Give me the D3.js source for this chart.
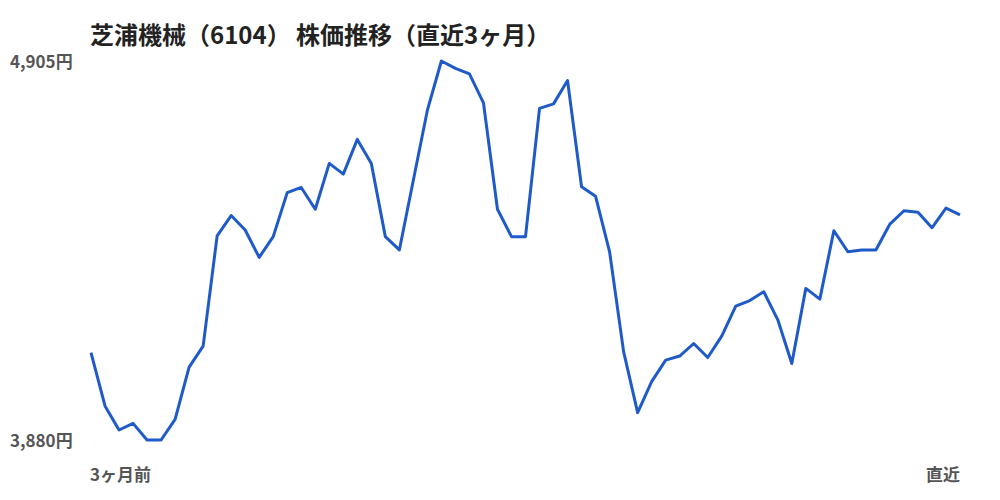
<!DOCTYPE html>
<html>
<head>
<meta charset="utf-8">
<script src="https://cdn.jsdelivr.net/npm/d3@7"></script>
<style>
body{margin:0;background:#fff;}
text{font-family:"Noto Sans CJK JP","Noto Sans",sans-serif;}
</style>
</head>
<body>
<script>
// closing prices, oldest first
var prices=[4116,3972,3907,3925,3880,3880,3936,4077,4134,4432,
            4487,4448,4374,4430,4549,4563,4504,4628,4599,4693,
            4628,4430,4394,4583,4772,4905,4885,4870,4792,4504,
            4430,4430,4777,4789,4852,4565,4539,4389,4119,3954,
            4038,4096,4107,4141,4103,4161,4242,4257,4281,4205,
            4087,4290,4261,4446,4389,4394,4394,4464,4500,4496,
            4454,4507,4489];
var yTicks=[4905,3880];
var xLabels=["3ヶ月前","直近"];
var title="芝浦機械（6104） 株価推移（直近3ヶ月）";

var w=1000,h=500;
var svg=d3.select("body").append("svg")
    .attr("width",w)
    .attr("height",h);

var x=d3.scaleLinear().domain([0,prices.length-1]).range([91,960]);
var y=d3.scaleLinear().domain([3880,4905]).range([440,61]);

//title
svg.append("text")
    .attr("x",90)
    .attr("y",44)
    .style("font-size","24px")
    .style("font-weight","bold")
    .style("fill","#222")
    .text(title);

//y labels
svg.selectAll(".ylab")
    .data(yTicks)
    .enter().append("text")
    .attr("class","ylab")
    .attr("x",10)
    .attr("y",function(d){return y(d)+7;})
    .style("font-size","17px")
    .style("font-weight","bold")
    .style("fill","#555")
    .text(function(d){return d3.format(",")(d)+"円";});

//x labels
svg.selectAll(".xlab")
    .data(xLabels)
    .enter().append("text")
    .attr("class","xlab")
    .attr("x",function(d,i){return i==0?x(0)-1:x(prices.length-1);})
    .attr("y",481)
    .attr("text-anchor",function(d,i){return i==0?"start":"end";})
    .style("font-size","17px")
    .style("font-weight","bold")
    .style("fill","#555")
    .text(function(d){return d;});

//line
var line=d3.line()
    .x(function(d,i){return x(i);})
    .y(function(d){return y(d);});
svg.append("path")
    .datum(prices)
    .attr("d",line)
    .attr("fill","none")
    .attr("stroke","#1f5bc8")
    .attr("stroke-width",3)
    .attr("stroke-linejoin","round");
</script>
</body>
</html>
